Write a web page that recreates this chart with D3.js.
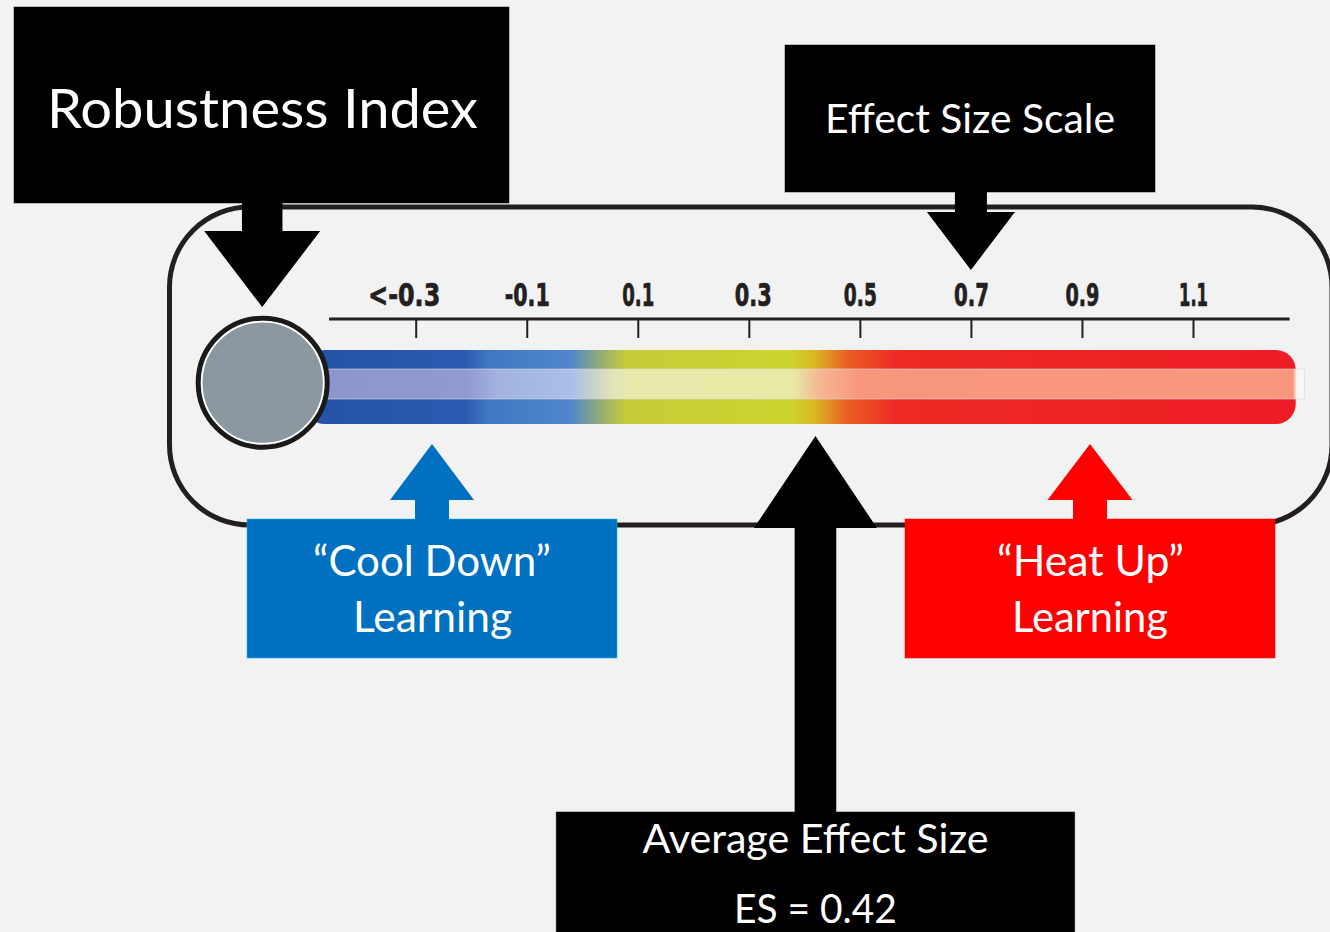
<!DOCTYPE html>
<html>
<head>
<meta charset="utf-8">
<script src="https://cdn.jsdelivr.net/npm/d3@7"></script>
<style>
  body { margin: 0; background: #f2f2f2; }
  svg { display: block; }
  .tick-lab { font-family: "DejaVu Sans Condensed", "DejaVu Sans", sans-serif; font-stretch: condensed; font-weight: bold; fill: #231f20; stroke: #231f20; stroke-width: 0.7px; }
  .ann { font-family: Lato, "Open Sans", sans-serif; fill: #fff; }
</style>
</head>
<body>
<div id="chart"></div>
<script>
// effect size scale ticks
var tickValues = [-0.3, -0.1, 0.1, 0.3, 0.5, 0.7, 0.9, 1.1];
var tickLabels = ["<-0.3", "-0.1", "0.1", "0.3", "0.5", "0.7", "0.9", "1.1"];
// measured effect size + where the scale arrow points
var averageES = 0.42;
var scalePointer = 0.7;

// extents (in effect size units) of the scale line, bar and highlight
var axisExtent = [-0.456, 1.274];
var barExtent = [-0.5, 1.285];
var glowExtent = [-0.5, 1.301];

// thermometer colours
var barStopES = [-0.5, -0.21, -0.17, -0.02, 0.03, 0.08, 0.38, 0.42, 0.48, 0.57, 1.285];
var barStopColors = ["#2453a6", "#2a5bb0", "#4277c3", "#4f86cc", "#8fac7a", "#c6cc38", "#cdd32e", "#dcb523", "#ea5a24", "#ed2a25", "#ee1c25"];
var glowStopES = [-0.5, -0.21, -0.15, -0.02, 0.05, 0.09, 0.38, 0.43, 0.5, 1.28, 1.287, 1.301];
var glowStopColors = ["#8c95cc", "#9099d0", "#a3b3e0", "#a9bfea", "#dfe3b8", "#e8e9a9", "#e9e9a6", "#f4b592", "#f7977c", "#f8967e", "#f7f7f7", "#f7f7f7"];

var width = 1330, height = 932;
// squeezed widths of the condensed tick labels (px)
var tickLabelWidth = [72, 45, 32, 37, 33, 35, 34, 29];

var svg = d3.select("#chart").append("svg")
    .attr("width", width)
    .attr("height", height);

svg.append("rect").attr("width", width).attr("height", height).attr("fill", "#f2f2f2");

var x = d3.scaleLinear()
    .domain([-0.3, 1.1])
    .range([415.7, 1193]);

var defs = svg.append("defs");

function makeGradient(id, stops, colors) {
  var x1 = x(stops[0]), x2 = x(stops[stops.length - 1]);
  var g = defs.append("linearGradient")
      .attr("id", id)
      .attr("gradientUnits", "userSpaceOnUse")
      .attr("x1", x1).attr("x2", x2)
      .attr("y1", 0).attr("y2", 0);
  g.selectAll("stop")
    .data(stops)
    .enter().append("stop")
      .attr("offset", function(d){ return (x(d) - x1) / (x2 - x1); })
      .attr("stop-color", function(d, i){ return colors[i]; });
}
makeGradient("barGrad", barStopES, barStopColors);
makeGradient("glowGrad", glowStopES, glowStopColors);

// outer rounded frame
svg.append("rect")
    .attr("x", 169.5).attr("y", 207)
    .attr("width", 1162.5).attr("height", 318)
    .attr("rx", 80).attr("ry", 80)
    .attr("fill", "none")
    .attr("stroke", "#231f20")
    .attr("stroke-width", 5);

// thermometer bar
svg.append("rect")
    .attr("x", x(barExtent[0])).attr("y", 350)
    .attr("width", x(barExtent[1]) - x(barExtent[0]))
    .attr("height", 74)
    .attr("rx", 20).attr("ry", 20)
    .attr("fill", "url(#barGrad)");

svg.append("rect")
    .attr("x", x(glowExtent[0])).attr("y", 369)
    .attr("width", x(glowExtent[1]) - x(glowExtent[0]))
    .attr("height", 30)
    .attr("fill", "url(#glowGrad)")
    .attr("stroke", "#d9d9d9")
    .attr("stroke-width", 0.6);

// robustness bulb
svg.append("circle")
    .attr("cx", 262.7).attr("cy", 382.7).attr("r", 64.5)
    .attr("fill", "#8b989f")
    .attr("stroke", "#1a1a1a")
    .attr("stroke-width", 5);
svg.append("circle")
    .attr("cx", 262.7).attr("cy", 382.7).attr("r", 61)
    .attr("fill", "none")
    .attr("stroke", "#fff")
    .attr("stroke-width", 1.8);

// effect size axis (ticks hang below the line, labels above)
svg.append("line")
    .attr("x1", x(axisExtent[0])).attr("x2", x(axisExtent[1]))
    .attr("y1", 319).attr("y2", 319)
    .attr("stroke", "#231f20")
    .attr("stroke-width", 3);

var axis = d3.axisTop(x)
    .tickValues(tickValues)
    .tickSizeInner(-19)
    .tickSizeOuter(0)
    .tickPadding(13)
    .tickFormat(function(d, i){ return tickLabels[i]; });

var axisG = svg.append("g")
    .attr("transform", "translate(0,319)")
    .call(axis);
axisG.select(".domain").remove();
axisG.selectAll(".tick line").attr("stroke", "#231f20").attr("stroke-width", 2);
axisG.selectAll(".tick text")
    .attr("class", "tick-lab")
    .attr("font-size", 32)
    .attr("textLength", function(d, i){ return tickLabelWidth[i]; })
    .attr("lengthAdjust", "spacingAndGlyphs")
    .attr("dx", function(d, i){ return i === 0 ? -12 : (i === 3 ? 4 : 0); })
    .attr("dy", 0);

// arrow polygon: shaft from tailY to baseY, head from baseY to tipY
function arrowPath(cx, tailY, baseY, tipY, shaftW, headW) {
  var p = d3.path();
  p.moveTo(cx - shaftW / 2, tailY);
  p.lineTo(cx - shaftW / 2, baseY);
  p.lineTo(cx - headW / 2, baseY);
  p.lineTo(cx, tipY);
  p.lineTo(cx + headW / 2, baseY);
  p.lineTo(cx + shaftW / 2, baseY);
  p.lineTo(cx + shaftW / 2, tailY);
  p.closePath();
  return p.toString();
}

function box(x0, y0, w, h, fill) {
  svg.append("rect")
      .attr("x", x0).attr("y", y0)
      .attr("width", w).attr("height", h)
      .attr("fill", fill)
      .attr("stroke", d3.color(fill).brighter(1.5))
      .attr("stroke-opacity", 0.5)
      .attr("stroke-width", 1);
}

function label(txt, cx, y, size, len) {
  svg.append("text")
      .attr("class", "ann")
      .attr("x", cx).attr("y", y)
      .attr("text-anchor", "middle")
      .attr("font-size", size)
      .attr("textLength", len)
      .attr("lengthAdjust", "spacingAndGlyphs")
      .text(txt);
}

// Robustness Index
box(14, 7, 495, 196, "#000");
svg.append("path").attr("d", arrowPath(262.2, 200, 231, 307, 40.5, 116)).attr("fill", "#000");
label("Robustness Index", 262.5, 127.7, 55, 431);

// Effect Size Scale
box(785, 45, 370, 147, "#000");
svg.append("path").attr("d", arrowPath(x(scalePointer), 190, 212, 270, 32, 88)).attr("fill", "#000");
label("Effect Size Scale", 970, 133, 41, 290);

// Cool Down
box(247, 519, 370, 139, "#0070c0");
svg.append("path").attr("d", arrowPath(432, 521, 500, 444, 34, 84)).attr("fill", "#0070c0");
label("\u201cCool Down\u201d", 432, 576, 43, 238);
label("Learning", 432.5, 632, 43, 159);

// Heat Up
box(905, 519, 370, 139, "#ff0000");
svg.append("path").attr("d", arrowPath(1090, 521, 500, 444, 34, 85)).attr("fill", "#ff0000");
label("\u201cHeat Up\u201d", 1090.5, 576, 43, 187);
label("Learning", 1090, 632, 43, 156);

// Average effect size
var esX = x(averageES);
svg.append("path").attr("d", arrowPath(esX, 814, 528, 436, 41.6, 123)).attr("fill", "#000");
box(esX - 259.2, 812, 518.4, 140, "#000");
label("Average Effect Size", esX, 853, 40, 346);
label("ES = " + averageES, esX, 923, 40, 163);
</script>
</body>
</html>
